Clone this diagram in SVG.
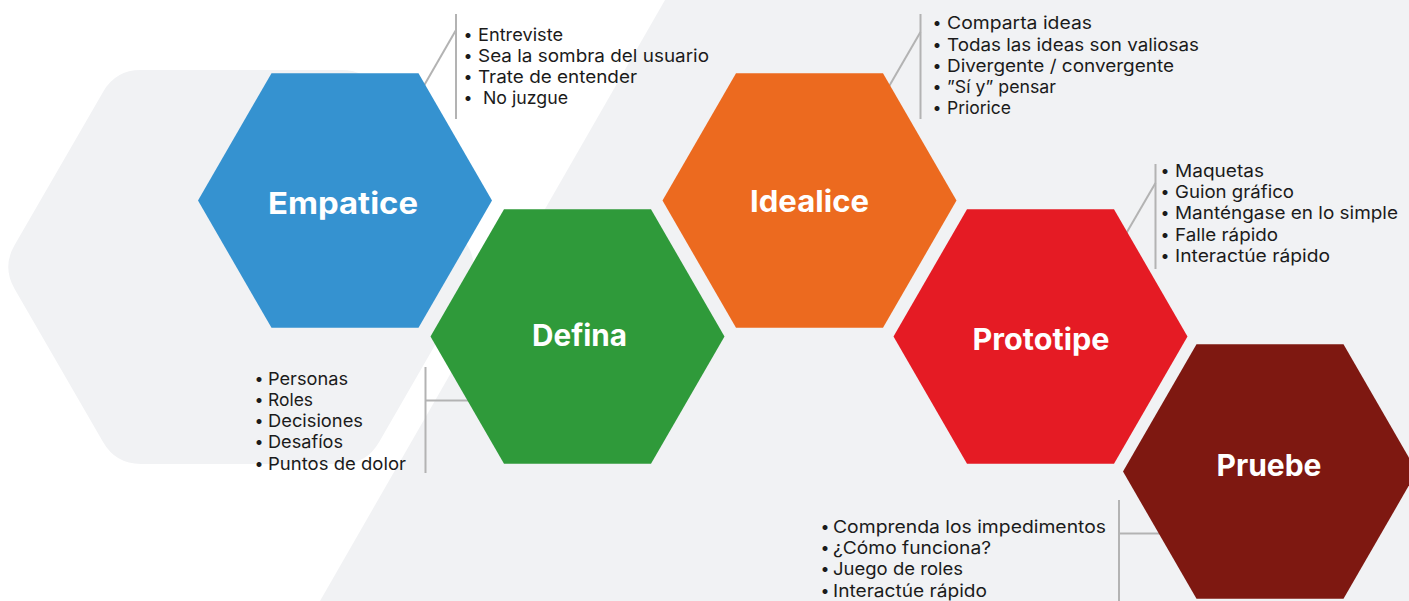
<svg xmlns="http://www.w3.org/2000/svg" width="1409" height="601" viewBox="0 0 1409 601">
<style>
.bg{fill:#f1f2f4}
.hex-title{font-family:Inter,"Open Sans","Liberation Sans",sans-serif;font-weight:700;font-size:30px;fill:#ffffff;text-anchor:middle}
.item{font-family:Inter,"Open Sans","Liberation Sans",sans-serif;font-weight:400;font-size:17.5px;fill:#1b1b1b}
.bul{font-family:Inter,"Open Sans","Liberation Sans",sans-serif;font-size:16px;fill:#1b1b1b;text-anchor:middle}
.conn{stroke:#b3b3b3;stroke-width:2;fill:none}
</style>
<rect width="1409" height="601" fill="#ffffff"/>
<g id="background">
<path class="bg" d="M14.5,245.35 L103.2,91.65 Q115.7,70 140.7,70 L341.5,70 Q366.5,70 379,91.65 L467.5,245.35 Q480,267 467.5,288.65 L379,442.35 Q366.5,464 341.5,464 L140.7,464 Q115.7,464 103.2,442.35 L14.5,288.65 Q2,267 14.5,245.35 Z"/>
<polygon class="bg" points="665,0 1409,0 1409,601 320,601"/>
</g>
<g id="connectors">
<line class="conn" x1="456" y1="14" x2="456" y2="119"/>
<line class="conn" x1="456" y1="30" x2="418" y2="96"/>
<line class="conn" x1="920.5" y1="14" x2="920.5" y2="119"/>
<line class="conn" x1="920.5" y1="32" x2="884" y2="95"/>
<line class="conn" x1="1155.5" y1="164" x2="1155.5" y2="269"/>
<line class="conn" x1="1155.5" y1="183" x2="1120" y2="244"/>
<line class="conn" x1="425.5" y1="367" x2="425.5" y2="473"/>
<line class="conn" x1="425.5" y1="400.5" x2="475" y2="400.5"/>
<line class="conn" x1="1119" y1="500" x2="1119" y2="601"/>
<line class="conn" x1="1119" y1="533.5" x2="1165" y2="533.5"/>
</g>
<g id="empatice">
<polygon fill="#3592d0" points="198,200.5 271.5,73.2 418.5,73.2 492,200.5 418.5,327.8 271.5,327.8"/>
<text class="hex-title" x="343" y="214" textLength="150" lengthAdjust="spacingAndGlyphs">Empatice</text>
</g>
<g id="empatice-list">
<text class="bul" x="468" y="39.5">•</text><text class="item" x="478" y="40.5" textLength="85" lengthAdjust="spacingAndGlyphs">Entreviste</text>
<text class="bul" x="468" y="60.7">•</text><text class="item" x="478" y="61.7" textLength="231" lengthAdjust="spacingAndGlyphs">Sea la sombra del usuario</text>
<text class="bul" x="468" y="81.9">•</text><text class="item" x="478" y="82.9" textLength="159" lengthAdjust="spacingAndGlyphs">Trate de entender</text>
<text class="bul" x="468" y="103.1">•</text><text class="item" x="483" y="104.1" textLength="85" lengthAdjust="spacingAndGlyphs">No juzgue</text>
</g>
<g id="defina">
<polygon fill="#2f9a3a" points="430.5,336.5 504,209.2 651,209.2 724.5,336.5 651,463.8 504,463.8"/>
<text class="hex-title" x="579.5" y="346" textLength="95" lengthAdjust="spacingAndGlyphs">Defina</text>
</g>
<g id="defina-list">
<text class="bul" x="259" y="384">•</text><text class="item" x="268" y="385" textLength="80" lengthAdjust="spacingAndGlyphs">Personas</text>
<text class="bul" x="259" y="405">•</text><text class="item" x="268" y="406" textLength="45" lengthAdjust="spacingAndGlyphs">Roles</text>
<text class="bul" x="259" y="426.2">•</text><text class="item" x="268" y="427.2" textLength="95" lengthAdjust="spacingAndGlyphs">Decisiones</text>
<text class="bul" x="259" y="447.4">•</text><text class="item" x="268" y="448.4" textLength="75" lengthAdjust="spacingAndGlyphs">Desafíos</text>
<text class="bul" x="259" y="468.5">•</text><text class="item" x="268" y="469.5" textLength="138" lengthAdjust="spacingAndGlyphs">Puntos de dolor</text>
</g>
<g id="idealice">
<polygon fill="#ec6a1f" points="662.5,200.5 736,73.2 883,73.2 956.5,200.5 883,327.8 736,327.8"/>
<text class="hex-title" x="809.5" y="212" textLength="119" lengthAdjust="spacingAndGlyphs">Idealice</text>
</g>
<g id="idealice-list">
<text class="bul" x="937" y="28.3">•</text><text class="item" x="947" y="29.3" textLength="145" lengthAdjust="spacingAndGlyphs">Comparta ideas</text>
<text class="bul" x="937" y="49.5">•</text><text class="item" x="947" y="50.5" textLength="252" lengthAdjust="spacingAndGlyphs">Todas las ideas son valiosas</text>
<text class="bul" x="937" y="70.7">•</text><text class="item" x="947" y="71.7" textLength="227" lengthAdjust="spacingAndGlyphs">Divergente / convergente</text>
<text class="bul" x="937" y="91.9">•</text><text class="item" x="947" y="92.9" textLength="109" lengthAdjust="spacingAndGlyphs">”Sí y” pensar</text>
<text class="bul" x="937" y="113.1">•</text><text class="item" x="947" y="114.1" textLength="64" lengthAdjust="spacingAndGlyphs">Priorice</text>
</g>
<g id="prototipe">
<polygon fill="#e51b24" points="893.5,336.5 967,209.2 1114,209.2 1187.5,336.5 1114,463.8 967,463.8"/>
<text class="hex-title" x="1041" y="350" textLength="137" lengthAdjust="spacingAndGlyphs">Prototipe</text>
</g>
<g id="prototipe-list">
<text class="bul" x="1165" y="176">•</text><text class="item" x="1175" y="177" textLength="89" lengthAdjust="spacingAndGlyphs">Maquetas</text>
<text class="bul" x="1165" y="197.2">•</text><text class="item" x="1175" y="198.2" textLength="119" lengthAdjust="spacingAndGlyphs">Guion gráfico</text>
<text class="bul" x="1165" y="218.4">•</text><text class="item" x="1175" y="219.4" textLength="223" lengthAdjust="spacingAndGlyphs">Manténgase en lo simple</text>
<text class="bul" x="1165" y="239.6">•</text><text class="item" x="1175" y="240.6" textLength="103" lengthAdjust="spacingAndGlyphs">Falle rápido</text>
<text class="bul" x="1165" y="260.8">•</text><text class="item" x="1175" y="261.8" textLength="155" lengthAdjust="spacingAndGlyphs">Interactúe rápido</text>
</g>
<g id="pruebe">
<polygon fill="#7e1811" points="1123,471.5 1196.5,344.2 1343.5,344.2 1417,471.5 1343.5,598.8 1196.5,598.8"/>
<text class="hex-title" x="1269" y="476" textLength="105" lengthAdjust="spacingAndGlyphs">Pruebe</text>
</g>
<g id="pruebe-list">
<text class="bul" x="825" y="532">•</text><text class="item" x="833" y="533" textLength="273" lengthAdjust="spacingAndGlyphs">Comprenda los impedimentos</text>
<text class="bul" x="825" y="553.2">•</text><text class="item" x="833" y="554.2" textLength="158" lengthAdjust="spacingAndGlyphs">¿Cómo funciona?</text>
<text class="bul" x="825" y="574.4">•</text><text class="item" x="833" y="575.4" textLength="130" lengthAdjust="spacingAndGlyphs">Juego de roles</text>
<text class="bul" x="825" y="595.6">•</text><text class="item" x="833" y="596.6" textLength="154" lengthAdjust="spacingAndGlyphs">Interactúe rápido</text>
</g>
</svg>
